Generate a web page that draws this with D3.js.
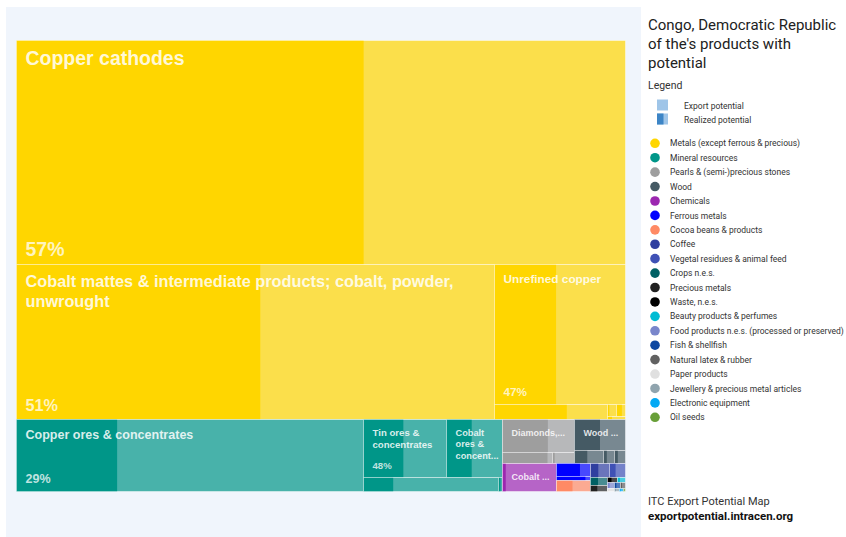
<!DOCTYPE html>
<html>
<head>
<meta charset="utf-8">
<script src="https://cdn.jsdelivr.net/npm/d3@7"></script>
<style>
  html, body { margin: 0; padding: 0; background: #fff; }
  svg { display: block; }
</style>
</head>
<body>
<svg id="chart" width="846" height="537"></svg>
<script>
// ---- Sectors (legend order = total export potential, descending) ----
const sectors = [
  "Metals (except ferrous & precious)", "Mineral resources", "Pearls & (semi-)precious stones",
  "Wood", "Chemicals", "Ferrous metals", "Cocoa beans & products", "Coffee",
  "Vegetal residues & animal feed", "Crops n.e.s.", "Precious metals", "Waste, n.e.s.",
  "Beauty products & perfumes", "Food products n.e.s. (processed or preserved)", "Fish & shellfish",
  "Natural latex & rubber", "Paper products", "Jewellery & precious metal articles",
  "Electronic equipment", "Oil seeds"
];
const sectorColors = [
  "#ffd600", "#009688", "#9e9e9e", "#455a64", "#9c27b0", "#0000ff", "#ff8a65", "#303f9f",
  "#3f51b5", "#006064", "#212121", "#000000", "#00bcd4", "#7986cb", "#0d47a1", "#616161",
  "#e0e0e0", "#90a4ae", "#03a9f4", "#689f38"
];

// ---- Products ----
const productNames = [
  "Copper cathodes",
  "Cobalt mattes & intermediate products; cobalt, powder, unwrought",
  "Unrefined copper",
  "Copper mattes; cement copper",
  "Copper waste & scrap",
  "Cobalt waste & scrap",
  "Tin, unwrought",
  "Copper ores & concentrates",
  "Tin ores & concentrates",
  "Cobalt ores & concentrates",
  "Niobium, tantalum & vanadium ores",
  "Zinc ores & concentrates",
  "Diamonds, unworked or simply sawn, cleaved or bruted",
  "Industrial diamonds, unworked",
  "Diamonds, worked",
  "Wood sawn or chipped lengthwise",
  "Tropical wood in the rough",
  "Veneer sheets",
  "Wood, continuously shaped",
  "Cobalt oxides & hydroxides",
  "Ferro-alloys",
  "Iron & steel waste & scrap",
  "Cocoa beans, whole or broken",
  "Coffee, not roasted, not decaffeinated",
  "Oilcake of palm nuts or kernels",
  "Cinchona bark",
  "Gold, unwrought",
  "Waste of primary cells & batteries",
  "Essential oils",
  "Palm oil, refined",
  "Frozen fish",
  "Natural rubber",
  "Paper & paperboard",
  "Articles of jewellery",
  "Electric accumulators",
  "Sesame seeds"
];
// index into sectors
const productSector = [0, 0, 0, 0, 0, 0, 0, 1, 1, 1, 1, 1, 2, 2, 2, 3, 3, 3, 3, 4, 5, 5, 6, 7, 8, 9, 10, 11, 12, 13, 14, 15, 16, 17, 18, 19];
// export potential (US$ thousands)
const exportPotential = [
  136416, 74265, 18273, 1760, 108, 106, 67,
  24866, 4755, 3201, 1960, 55,
  2376, 520, 236,
  1525, 379, 150, 143,
  1503,
  458, 139,
  382, 263, 227, 132, 99, 55, 46, 44, 35, 28, 20, 14, 10, 6
];
// share of the export potential already realized
const realizedShare = [
  0.57, 0.51, 0.47, 0.64, 0.2, 0.6, 0.25,
  0.29, 0.48, 0.45, 0.22, 0.5,
  0.63, 0.9, 0.1,
  0.5, 0.44, 0.3, 0.3,
  0.06,
  0.69, 0.85,
  0.47, 0.41, 0.38, 0.44, 0.4, 0.4, 0.3, 0.3, 0.3, 0.3, 0.3, 0.3, 0.3, 0.3
];

const titleText = "Congo, Democratic Republic of the's products with potential";
const legendTitle = "Legend";
const legendKinds = ["Export potential", "Realized potential"];
const footerLines = ["ITC Export Potential Map", "exportpotential.intracen.org"];

// ---------------------------------------------------------------
const svg = d3.select("#chart");
const ctx = document.createElement("canvas").getContext("2d");
function textWidth(str, size, weight, family) {
  ctx.font = `${weight} ${size}px ${family}`;
  return ctx.measureText(str).width;
}

// chart panel
svg.append("rect").attr("x", 6).attr("y", 7).attr("width", 635).attr("height", 530)
  .attr("fill", "#f0f5fc");

const W = 609, H = 451;
const tree = svg.append("g").attr("transform", "translate(16.5,40.5)");

const rootData = {
  name: "root",
  children: sectors.map((s, i) => ({
    name: s, sector: i,
    children: productNames.map((n, j) => ({
      name: n, sector: productSector[j], value: exportPotential[j], share: realizedShare[j]
    })).filter(p => p.sector === i)
  }))
};

const root = d3.hierarchy(rootData)
  .sum(d => d.children ? 0 : d.value)
  .sort((a, b) => b.value - a.value);

// squarified tiling computed on a vertically stretched canvas, which favours
// horizontal strips across the wide chart area
const STRETCH = 2.25;
function stretchedSquarify(node, x0, y0, x1, y1) {
  d3.treemapSquarify(node, x0, y0 * STRETCH, x1, y1 * STRETCH);
  for (const c of node.children) { c.y0 /= STRETCH; c.y1 /= STRETCH; }
}
d3.treemap().tile(stretchedSquarify).size([W, H]).round(true)(root);

const colorOf = d => sectorColors[d.data.sector];
const leaves = root.leaves();

const cells = tree.selectAll("g.cell").data(leaves).join("g")
  .attr("class", "cell")
  .attr("transform", d => `translate(${d.x0},${d.y0})`);

// full export potential (lighter)
cells.append("rect")
  .attr("width", d => d.x1 - d.x0)
  .attr("height", d => d.y1 - d.y0)
  .attr("fill", colorOf)
  .attr("fill-opacity", 0.7);

// realized part (solid)
cells.append("rect")
  .attr("width", d => d3.scaleLinear().domain([0, 1]).range([0, d.x1 - d.x0])(d.data.share))
  .attr("height", d => d.y1 - d.y0)
  .attr("fill", colorOf);

// cell outline
cells.append("rect")
  .attr("width", d => d.x1 - d.x0)
  .attr("height", d => d.y1 - d.y0)
  .attr("fill", "none")
  .attr("stroke", "#fff")
  .attr("stroke-opacity", 0.45)
  .attr("stroke-width", 1);

// ---- labels ----
const LABEL_FONT = '"Liberation Sans", Arial, Helvetica, sans-serif';
const fontScale = d3.scaleLinear().domain([50, 370]).range([9, 19.5]).clamp(true);
const PAD = 9;

function labelLayout(d) {
  const w = d.x1 - d.x0, h = d.y1 - d.y0;
  if (w < 40 || h < 24) return null;
  const fs = fontScale(Math.sqrt(w * h));
  const lh = fs * 1.25;
  const maxLines = Math.floor((h - PAD - 4) / lh);
  if (maxLines < 1) return null;
  const wrapW = w - 2 * PAD;
  const cutW = w * 0.77;
  const words = d.data.name.split(" ");
  const lines = [];
  let cur = "";
  for (const wd of words) {
    const t = cur ? cur + " " + wd : wd;
    if (!cur || textWidth(t, fs, "bold", LABEL_FONT) <= wrapW) cur = t;
    else { lines.push(cur); cur = wd; }
  }
  if (cur) lines.push(cur);

  // shorten with an ellipsis where a line is too wide or lines run out
  const out = [];
  let truncated = false;
  for (let i = 0; i < lines.length; i++) {
    const last = i === maxLines - 1;
    const tooWide = textWidth(lines[i], fs, "bold", LABEL_FONT) > wrapW + 2;
    if ((last && i < lines.length - 1) || tooWide) {
      const rest = lines.slice(i).join(" ");
      let k = rest.length;
      while (k > 0 && textWidth(rest.slice(0, k) + "...", fs, "bold", LABEL_FONT) > cutW) k--;
      out.push(rest.slice(0, k) + "...");
      truncated = true;
      break;
    }
    out.push(lines[i]);
  }
  const showPct = !truncated && (out.length + 1) <= maxLines;
  return { fs, lh, lines: out, showPct, h };
}

cells.each(function (d) {
  const L = labelLayout(d);
  if (!L) return;
  const g = d3.select(this);
  const t = g.append("text")
    .attr("font-family", LABEL_FONT)
    .attr("font-weight", "bold")
    .attr("font-size", L.fs)
    .attr("fill", "#fff")
    .attr("fill-opacity", 0.85);
  L.lines.forEach((ln, i) => {
    t.append("tspan").attr("x", PAD).attr("y", PAD + L.fs * 0.8 + i * L.lh).text(ln);
  });
  if (L.showPct) {
    g.append("text")
      .attr("x", PAD).attr("y", L.h - 8.5)
      .attr("font-family", LABEL_FONT)
      .attr("font-weight", "bold")
      .attr("font-size", L.fs)
      .attr("fill", "#fff")
      .attr("fill-opacity", 0.75)
      .text(Math.round(d.data.share * 100) + "%");
  }
});

// ---- side panel: title, legend, footer ----
const SIDE_FONT = 'Roboto, "Noto Sans", Arial, sans-serif';
const side = svg.append("g");

// title, word-wrapped
(function () {
  const words = titleText.split(" ");
  const lines = [];
  let cur = "";
  for (const wd of words) {
    const t = cur ? cur + " " + wd : wd;
    if (!cur || textWidth(t, 15, "normal", SIDE_FONT) <= 194) cur = t;
    else { lines.push(cur); cur = wd; }
  }
  lines.push(cur);
  const tt = side.append("text").attr("font-family", SIDE_FONT).attr("font-size", 15).attr("fill", "#212121");
  lines.forEach((ln, i) => tt.append("tspan").attr("x", 648).attr("y", 30 + i * 19).text(ln));
})();

side.append("text").attr("x", 648).attr("y", 88.5)
  .attr("font-family", SIDE_FONT).attr("font-size", 10.5).attr("fill", "#333")
  .text(legendTitle);

// export / realized key
const keyY = d3.scalePoint().domain(legendKinds).range([99.5, 113.5]);
legendKinds.forEach((k, i) => {
  const y = keyY(k);
  side.append("rect").attr("x", 657).attr("y", y).attr("width", 11).attr("height", 11).attr("fill", "#9fc5e8");
  if (i === 1) side.append("rect").attr("x", 657).attr("y", y).attr("width", 6.5).attr("height", 11).attr("fill", "#3d85c6");
  side.append("text").attr("x", 684).attr("y", y + 9)
    .attr("font-family", SIDE_FONT).attr("font-size", 8.5).attr("fill", "#333").text(k);
});

// sector legend
const legY = d3.scalePoint().domain(sectors).range([143.3, 417.3]);
const items = side.selectAll("g.leg").data(sectors).join("g").attr("class", "leg")
  .attr("transform", d => `translate(0,${legY(d)})`);
items.append("circle").attr("cx", 655).attr("cy", 0).attr("r", 4.8)
  .attr("fill", (d, i) => sectorColors[i]);
items.append("text").attr("x", 670).attr("y", 3.1)
  .attr("font-family", SIDE_FONT).attr("font-size", 8.5).attr("fill", "#333")
  .text(d => d);

// footer
side.append("text").attr("x", 648).attr("y", 505)
  .attr("font-family", SIDE_FONT).attr("font-size", 11).attr("fill", "#333").text(footerLines[0]);
side.append("text").attr("x", 648).attr("y", 519.5)
  .attr("font-family", SIDE_FONT).attr("font-size", 11.5).attr("font-weight", "bold").attr("fill", "#111").text(footerLines[1]);
</script>
</body>
</html>
